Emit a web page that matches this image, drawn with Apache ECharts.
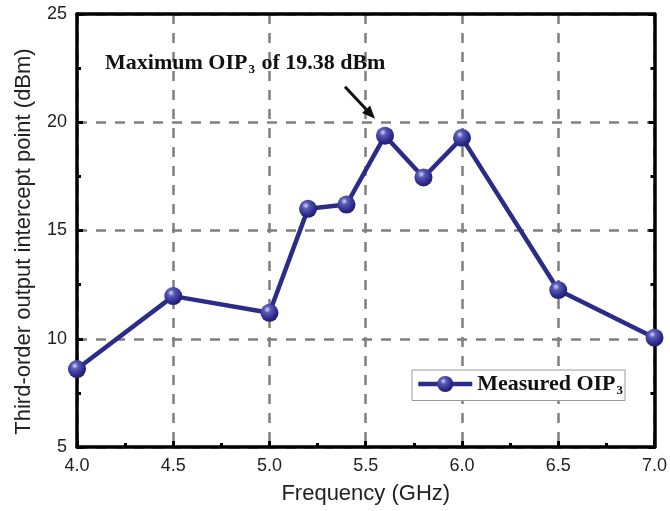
<!DOCTYPE html>
<html>
<head>
<meta charset="utf-8">
<style>
  html, body { margin: 0; padding: 0; background: #fff; }
  #chart { width: 670px; height: 511px; }
</style>
<script src="https://cdn.jsdelivr.net/npm/echarts@6/dist/echarts.min.js"></script>
</head>
<body>
<div id="chart"></div>
<script>
// Measured third-order output intercept point vs. frequency
const freqGHz = [4.0, 4.5, 5.0, 5.2, 5.4, 5.6, 5.8, 6.0, 6.5, 7.0];
const oip3dBm = [8.6, 11.97, 11.2, 16.0, 16.2, 19.38, 17.45, 19.28, 12.25, 10.05];
const xTicks = [4.0, 4.5, 5.0, 5.5, 6.0, 6.5, 7.0];
const yTicks = [5, 10, 15, 20, 25];

const chart = echarts.init(document.getElementById('chart'));

const sansFont = '"Liberation Sans", Arial, sans-serif';
const serifFont = '"Liberation Serif", "Times New Roman", serif';
const gridLine = { show: true, lineStyle: { color: '#7f7f7f', width: 2.5, type: [10, 9] } };

const sphere = {
  type: 'radial', x: 0.38, y: 0.32, r: 0.75,
  colorStops: [
    { offset: 0, color: '#d8d8f4' },
    { offset: 0.25, color: '#5a5ab8' },
    { offset: 0.7, color: '#2a2a8a' },
    { offset: 1, color: '#1a1a66' }
  ]
};

const points = freqGHz.map((f, i) => [f, oip3dBm[i]]);
const peakIdx = oip3dBm.indexOf(Math.max(...oip3dBm));

const frameAxis = { show: true, onZero: false, lineStyle: { color: '#000', width: 3.5 } };
const innerTick = { show: true, inside: true, length: 6, lineStyle: { color: '#000', width: 3 } };
const innerMinor = { show: true, splitNumber: 2, length: 4, lineStyle: { color: '#000', width: 3 } };

chart.setOption({
  animation: false,
  backgroundColor: '#fff',
  grid: { left: 77, right: 13, top: 14, bottom: 64, containLabel: false },
  legend: {
    show: true,
    left: 412, top: 370,
    padding: [3, 2, 3, 4],
    itemWidth: 54, itemHeight: 20, itemGap: 4,
    backgroundColor: '#fff',
    borderColor: '#9a9a9a', borderWidth: 1,
    lineStyle: { width: 4.5, color: '#2b2b88' },
    data: ['Measured OIP3'],
    formatter: () => '{m|Measured OIP}{s|3}',
    textStyle: {
      rich: {
        m: { fontFamily: serifFont, fontWeight: 'bold', fontSize: 22, color: '#111' },
        s: { fontFamily: serifFont, fontWeight: 'bold', fontSize: 13, color: '#111', padding: [14, 0, 0, 1] }
      }
    }
  },
  xAxis: [{
    type: 'value', min: 4, max: 7, interval: 0.5,
    name: 'Frequency (GHz)', nameLocation: 'middle', nameGap: 36,
    nameTextStyle: { fontFamily: sansFont, fontSize: 22, color: '#222' },
    axisLine: frameAxis, axisTick: innerTick, minorTick: innerMinor,
    axisLabel: { fontFamily: sansFont, fontSize: 18, color: '#222', margin: 10, formatter: v => v.toFixed(1) },
    splitLine: gridLine
  }, {
    type: 'value', min: 4, max: 7, interval: 0.5, position: 'top',
    axisLine: frameAxis,
    axisTick: { show: false }, axisLabel: { show: false }, splitLine: { show: false }
  }],
  yAxis: [{
    type: 'value', min: 5, max: 25, interval: 5,
    name: 'Third-order output intercept point (dBm)', nameLocation: 'middle', nameGap: 42,
    nameTextStyle: { fontFamily: sansFont, fontSize: 22, color: '#222', padding: [0, 22, 0, 0] },
    axisLine: frameAxis, axisTick: innerTick, minorTick: innerMinor,
    axisLabel: { fontFamily: sansFont, fontSize: 18, color: '#222', margin: 10 },
    splitLine: gridLine
  }, {
    type: 'value', min: 5, max: 25, interval: 5, position: 'right',
    axisLine: frameAxis, axisTick: innerTick, minorTick: innerMinor,
    axisLabel: { show: false }, splitLine: { show: false }
  }],
  series: [{
    name: 'Measured OIP3',
    type: 'line',
    data: points,
    symbol: 'circle',
    symbolSize: 18,
    clip: false,
    lineStyle: { color: '#2b2b88', width: 4.5 },
    itemStyle: { color: sphere, borderWidth: 0 },
    z: 5
  }]
});

// Peak annotation: label text and an arrow pointing at the maximum
const tip = chart.convertToPixel({ gridIndex: 0 }, points[peakIdx]);
const arrowEnd = [tip[0] - 10, tip[1] - 17];
const arrowStart = [arrowEnd[0] - 30, arrowEnd[1] - 32];
const ang = Math.atan2(arrowEnd[1] - arrowStart[1], arrowEnd[0] - arrowStart[0]);
const headLen = 13, headHalf = 5.5;
const bx = arrowEnd[0] - headLen * Math.cos(ang), by = arrowEnd[1] - headLen * Math.sin(ang);
const nx = -Math.sin(ang), ny = Math.cos(ang);

chart.setOption({
  graphic: [
    {
      type: 'text', left: 105, top: 52, z: 10,
      style: {
        text: '{m|Maximum OIP}{s|3}{m| of ' + oip3dBm[peakIdx].toFixed(2) + ' dBm}',
        rich: {
          m: { fontFamily: serifFont, fontWeight: 'bold', fontSize: 22, fill: '#111' },
          s: { fontFamily: serifFont, fontWeight: 'bold', fontSize: 13, fill: '#111', padding: [14, 1, 0, 1] }
        }
      }
    },
    {
      type: 'line', z: 10,
      shape: { x1: arrowStart[0], y1: arrowStart[1], x2: bx, y2: by },
      style: { stroke: '#111', lineWidth: 3 }
    },
    {
      type: 'polygon', z: 10,
      shape: { points: [arrowEnd, [bx + nx * headHalf, by + ny * headHalf], [bx - nx * headHalf, by - ny * headHalf]] },
      style: { fill: '#111' }
    }
  ]
});
</script>
</body>
</html>
